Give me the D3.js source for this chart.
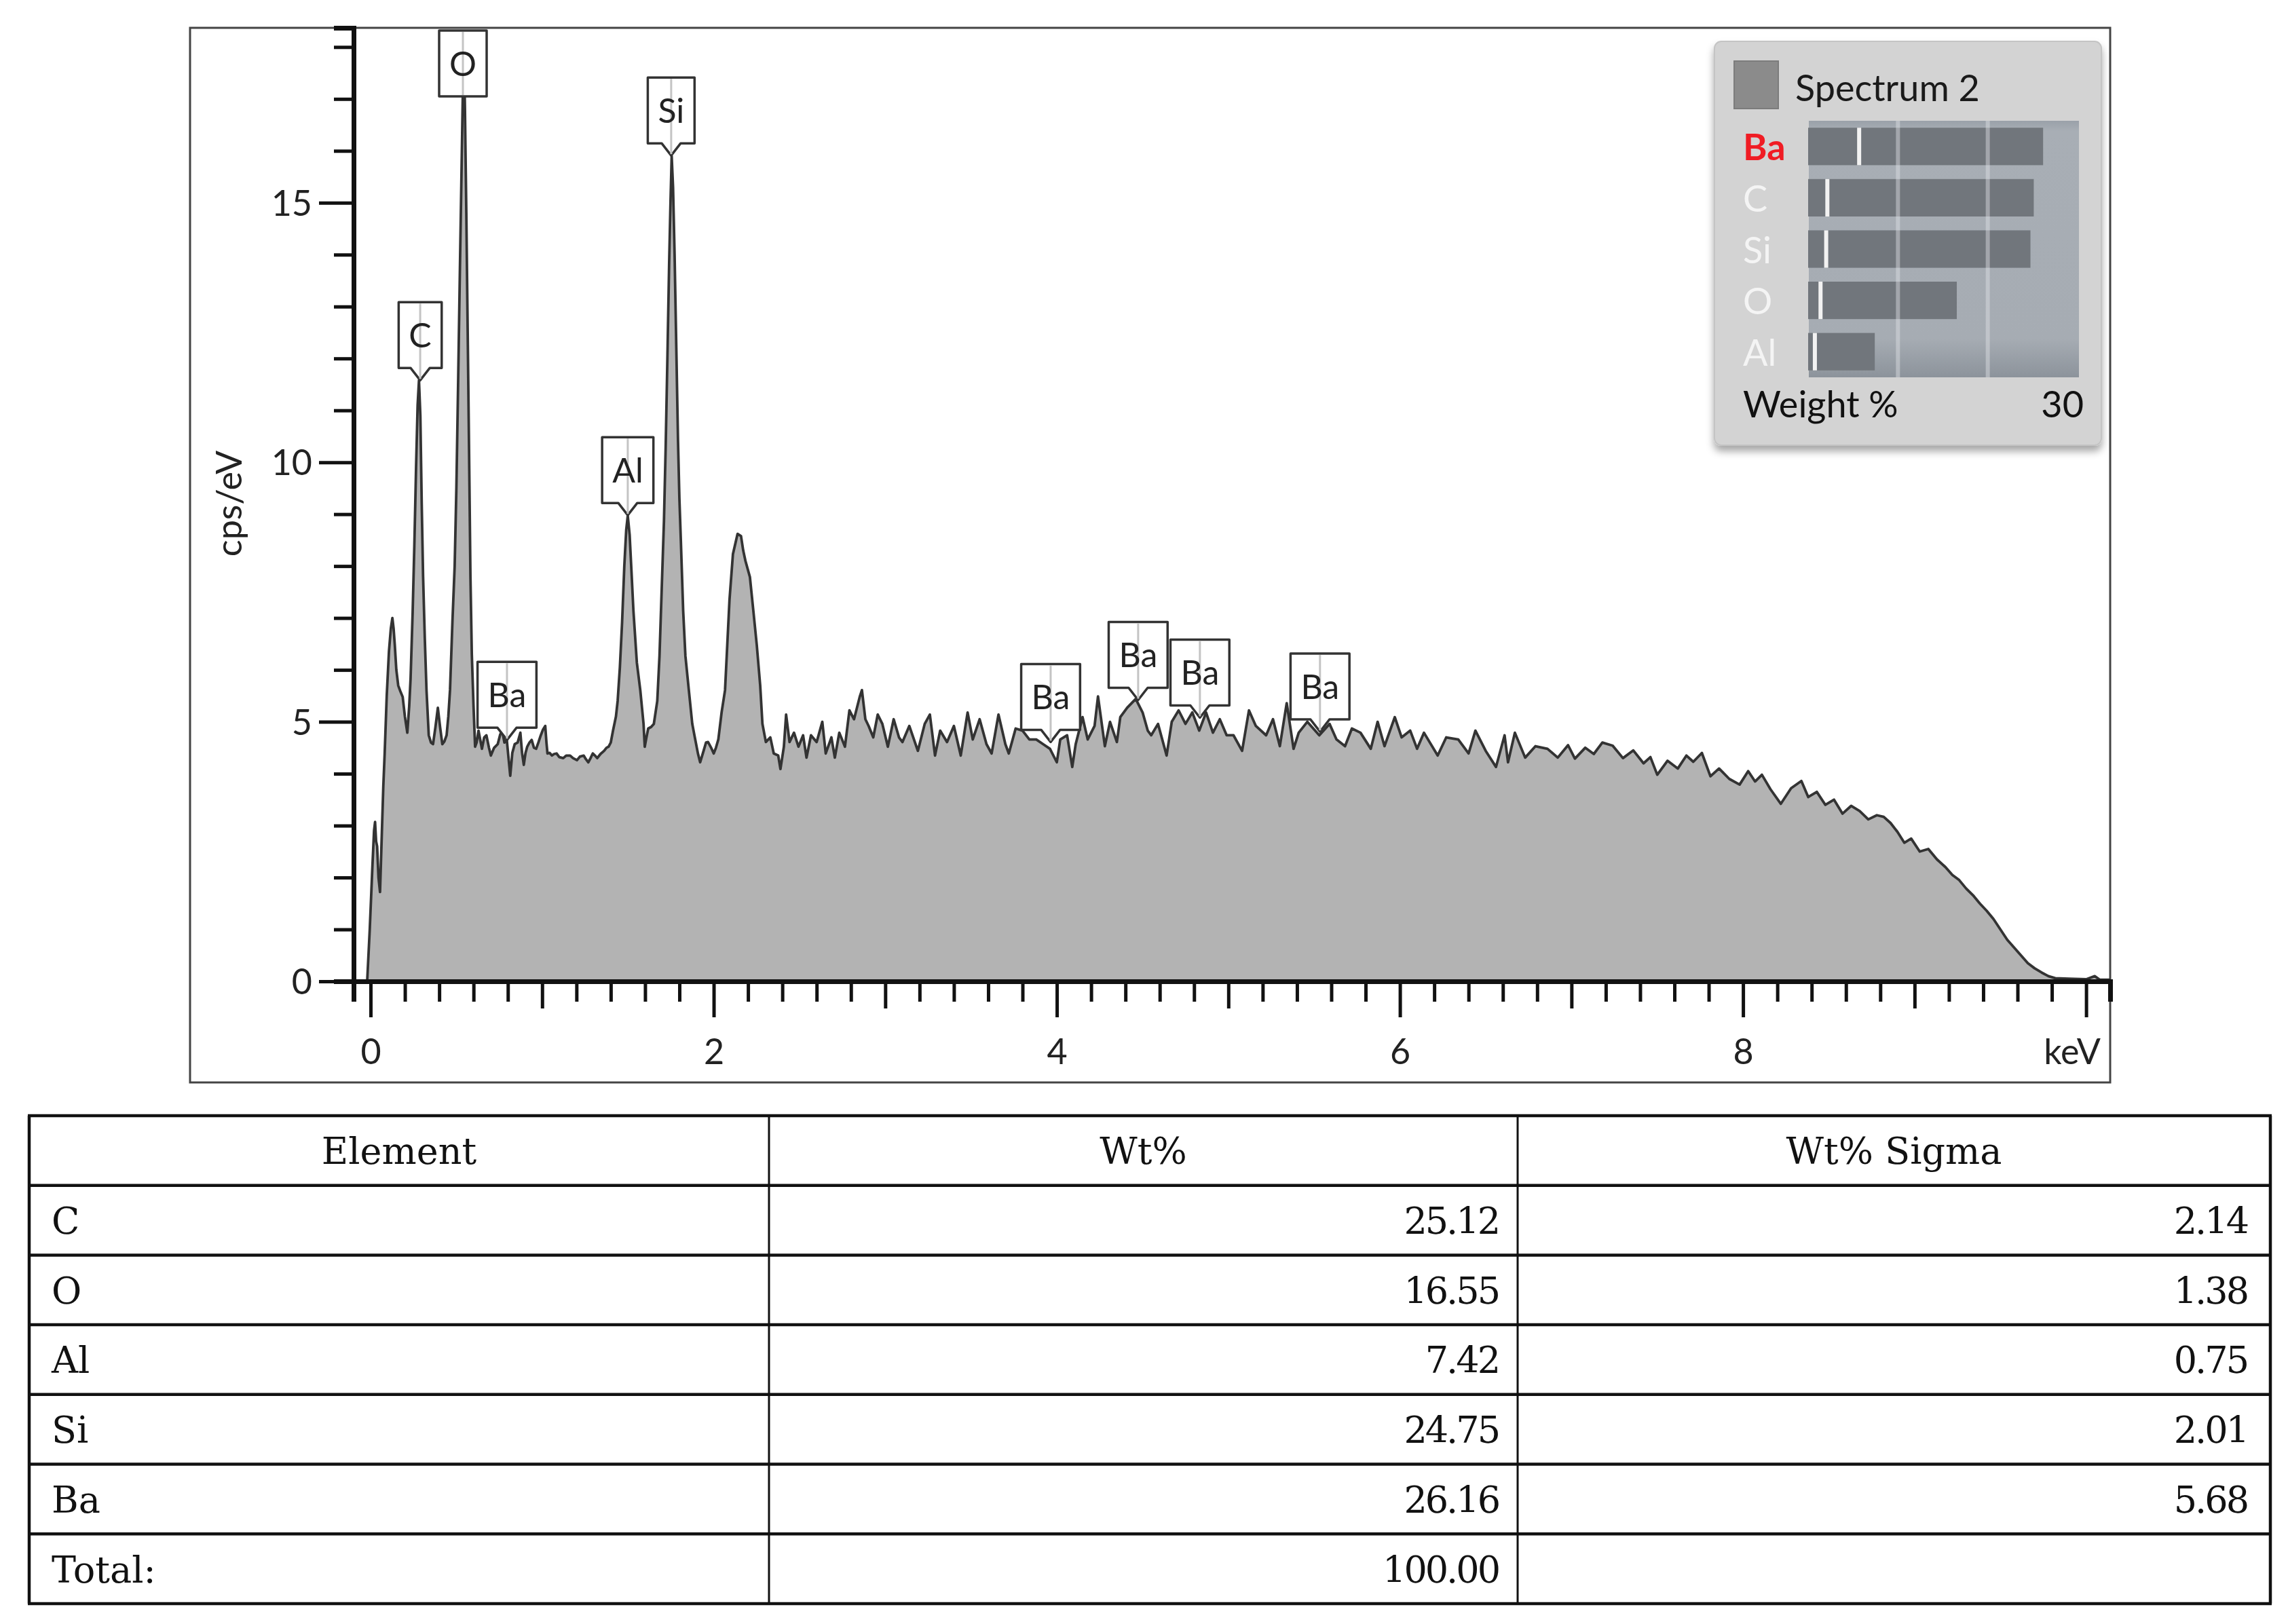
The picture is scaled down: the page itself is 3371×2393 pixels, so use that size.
<!DOCTYPE html>
<html><head><meta charset="utf-8">
<script src="https://cdn.jsdelivr.net/npm/d3@7"></script>
<style>html,body{margin:0;padding:0;background:#fff;} svg{display:block;}</style>
</head><body>
<svg id="c" width="3371" height="2393"></svg>
<script>
// ---- spectrum: [keV, cps/eV] ----
const spectrum = [
[-0.02,0],[-0.005,1.0],[0.011,2.25],[0.02,2.9],[0.026,3.07],[0.032,2.7],[0.038,2.6],[0.046,2.0],[0.055,1.72],[0.065,2.8],
[0.074,3.75],[0.082,4.39],[0.094,5.5],[0.107,6.36],[0.118,6.8],[0.127,7.0],[0.134,6.8],[0.141,6.48],[0.15,6.0],[0.161,5.7],
[0.172,5.6],[0.187,5.48],[0.2,5.1],[0.214,4.79],[0.225,5.3],[0.233,5.83],[0.245,7.1],[0.255,8.4],[0.265,9.9],[0.274,11.1],
[0.282,11.58],[0.29,10.9],[0.298,9.2],[0.306,7.8],[0.316,6.6],[0.326,5.6],[0.339,4.74],[0.352,4.6],[0.364,4.57],[0.378,4.9],
[0.392,5.27],[0.405,4.9],[0.418,4.57],[0.43,4.62],[0.443,4.74],[0.453,5.1],[0.463,5.62],[0.477,6.93],[0.49,8.0],[0.5,9.5],
[0.51,11.5],[0.52,13.6],[0.53,15.6],[0.538,17.2],[0.544,17.9],[0.55,16.8],[0.558,14.8],[0.566,12.5],[0.574,10.2],[0.582,7.8],
[0.59,6.3],[0.6,5.3],[0.609,4.52],[0.618,4.6],[0.629,4.83],[0.649,4.48],[0.662,4.7],[0.675,4.74],[0.69,4.5],[0.701,4.35],
[0.72,4.5],[0.741,4.57],[0.755,4.75],[0.767,4.83],[0.78,4.6],[0.794,4.65],[0.804,4.3],[0.814,3.96],[0.826,4.4],[0.84,4.57],
[0.857,4.6],[0.873,4.79],[0.883,4.4],[0.893,4.17],[0.903,4.4],[0.913,4.52],[0.926,4.6],[0.939,4.65],[0.952,4.5],[0.965,4.48],
[0.978,4.6],[0.992,4.74],[1.005,4.85],[1.018,4.92],[1.025,4.6],[1.031,4.39],[1.044,4.4],[1.057,4.35],[1.07,4.38],[1.084,4.39],
[1.1,4.32],[1.123,4.3],[1.14,4.35],[1.163,4.35],[1.18,4.3],[1.203,4.26],[1.22,4.33],[1.242,4.35],[1.255,4.28],[1.269,4.22],
[1.282,4.3],[1.295,4.39],[1.308,4.35],[1.321,4.3],[1.34,4.38],[1.361,4.44],[1.375,4.5],[1.387,4.52],[1.4,4.6],[1.413,4.83],
[1.43,5.1],[1.44,5.4],[1.453,6.05],[1.466,6.92],[1.479,8.01],[1.49,8.7],[1.499,8.97],[1.51,8.6],[1.519,8.01],[1.532,7.14],
[1.552,6.14],[1.572,5.61],[1.591,4.96],[1.598,4.52],[1.608,4.7],[1.618,4.87],[1.635,4.9],[1.651,4.96],[1.671,5.4],[1.684,6.27],
[1.697,7.57],[1.71,8.87],[1.72,10.3],[1.73,12.0],[1.74,13.8],[1.748,15.0],[1.755,15.9],[1.763,15.3],[1.772,14.0],[1.782,12.2],
[1.792,10.4],[1.8,9.3],[1.809,8.44],[1.822,7.14],[1.835,6.27],[1.855,5.61],[1.875,4.96],[1.89,4.7],[1.908,4.39],[1.921,4.22],
[1.941,4.44],[1.955,4.6],[1.967,4.61],[1.985,4.5],[2.0,4.39],[2.013,4.5],[2.027,4.66],[2.046,5.18],[2.066,5.61],[2.079,6.48],
[2.092,7.35],[2.112,8.23],[2.139,8.62],[2.159,8.58],[2.172,8.3],[2.185,8.1],[2.211,7.79],[2.231,7.14],[2.251,6.48],[2.271,5.7],
[2.284,4.96],[2.304,4.61],[2.33,4.7],[2.35,4.39],[2.376,4.35],[2.389,4.09],[2.409,4.52],[2.422,5.14],[2.442,4.61],[2.468,4.79],
[2.494,4.52],[2.521,4.74],[2.541,4.31],[2.567,4.74],[2.6,4.61],[2.633,5.0],[2.653,4.39],[2.686,4.7],[2.706,4.31],[2.732,4.79],
[2.765,4.52],[2.791,5.22],[2.818,5.05],[2.851,5.48],[2.864,5.61],[2.884,5.05],[2.903,4.92],[2.93,4.7],[2.956,5.14],[2.983,4.96],
[3.015,4.52],[3.049,5.05],[3.08,4.7],[3.10,4.61],[3.14,4.92],[3.19,4.44],[3.23,4.96],[3.26,5.14],[3.29,4.35],[3.32,4.83],
[3.36,4.61],[3.40,4.92],[3.44,4.35],[3.48,5.18],[3.51,4.66],[3.55,5.05],[3.59,4.57],[3.62,4.39],[3.66,5.14],[3.70,4.57],
[3.72,4.39],[3.76,4.87],[3.80,4.83],[3.84,4.66],[3.88,4.66],[3.92,4.57],[3.96,4.48],[4.00,4.22],[4.02,4.66],[4.06,4.74],
[4.09,4.13],[4.11,4.57],[4.15,5.09],[4.18,4.66],[4.22,4.92],[4.24,5.49],[4.28,4.53],[4.31,5.0],[4.35,4.61],[4.37,5.09],
[4.41,5.27],[4.46,5.44],[4.50,5.18],[4.53,4.83],[4.55,4.74],[4.59,4.96],[4.64,4.35],[4.67,5.0],[4.71,5.22],[4.75,4.96],
[4.79,5.18],[4.83,4.83],[4.87,5.18],[4.91,4.79],[4.95,5.05],[4.99,4.74],[5.03,4.74],[5.08,4.44],[5.12,5.22],[5.16,4.92],
[5.22,4.74],[5.26,5.05],[5.30,4.53],[5.34,5.36],[5.38,4.48],[5.41,4.79],[5.46,5.0],[5.53,4.74],[5.59,4.96],[5.63,4.66],
[5.68,4.53],[5.72,4.87],[5.77,4.79],[5.83,4.48],[5.87,5.0],[5.91,4.53],[5.97,5.09],[6.01,4.70],[6.06,4.83],[6.10,4.48],
[6.14,4.79],[6.22,4.35],[6.27,4.70],[6.34,4.66],[6.40,4.39],[6.44,4.83],[6.50,4.44],[6.56,4.13],[6.61,4.74],[6.63,4.22],
[6.67,4.79],[6.73,4.31],[6.79,4.53],[6.86,4.48],[6.92,4.31],[6.98,4.55],[7.02,4.29],[7.08,4.5],[7.13,4.38],[7.18,4.6],
[7.24,4.54],[7.3,4.3],[7.36,4.45],[7.42,4.2],[7.46,4.32],[7.5,3.98],[7.56,4.25],[7.62,4.1],[7.67,4.35],[7.71,4.23],
[7.76,4.4],[7.81,3.95],[7.86,4.1],[7.92,3.9],[7.98,3.79],[8.03,4.05],[8.07,3.85],[8.11,3.98],[8.16,3.7],[8.22,3.42],
[8.28,3.72],[8.34,3.86],[8.38,3.55],[8.43,3.65],[8.48,3.4],[8.53,3.5],[8.58,3.23],[8.63,3.38],[8.68,3.28],[8.73,3.12],
[8.78,3.2],[8.82,3.17],[8.86,3.05],[8.9,2.88],[8.94,2.67],[8.98,2.75],[9.03,2.5],[9.08,2.55],[9.13,2.35],[9.18,2.2],
[9.22,2.05],[9.26,1.95],[9.3,1.79],[9.34,1.66],[9.38,1.5],[9.42,1.36],[9.46,1.2],[9.5,1.0],[9.54,0.8],[9.58,0.65],
[9.62,0.5],[9.66,0.35],[9.7,0.25],[9.74,0.17],[9.78,0.1],[9.82,0.06],[9.9,0.05],[10.0,0.04],[10.05,0.1],[10.08,0.03],[10.14,0.03]
];

// ---- peak markers ----
const peakElements = ["C","O","Ba","Al","Si","Ba","Ba","Ba","Ba"];
const peakKeV      = [0.289,0.538,0.795,1.499,1.752,3.964,4.474,4.834,5.534];
const peakCps      = [11.58,17.9,4.65,8.98,15.91,4.61,5.42,5.08,4.81];

// ---- axes ----
const yTicks = d3.range(0, 19);
const xTicks = d3.range(0, 51).map(i => +(i * 0.2).toFixed(1));
const xLabelValues = [0, 2, 4, 6, 8];
const yLabelValues = [0, 5, 10, 15];

// ---- table ----
const tableHeader = ["Element", "Wt%", "Wt% Sigma"];
const tableElements = ["C", "O", "Al", "Si", "Ba"];
const wtPct   = [25.12, 16.55, 7.42, 24.75, 26.16];
const wtSigma = [2.14, 1.38, 0.75, 2.01, 5.68];
const totalLabel = "Total:";
const totalValue = "100.00";

// ---- legend ----
const legendTitle = "Spectrum 2";
const legendAxisMax = 30;
const legendGrid = [10, 20];
const highlightElement = "Ba";

const svg = d3.select("#c");
const SANS = "Lato, 'Noto Sans', sans-serif";
const SERIF = "'DejaVu Serif', 'Liberation Serif', serif";

const x = d3.scaleLinear().domain([-0.099, 10.14]).range([521, 3109]);
const y = d3.scaleLinear().domain([0, 18.37]).range([1446, 41]);

// frame
svg.append("rect").attr("x", 280).attr("y", 41).attr("width", 3109 - 280).attr("height", 1595 - 41)
  .attr("fill", "#fff").attr("stroke", "#444").attr("stroke-width", 3);

// clip
svg.append("clipPath").attr("id", "plotclip").append("rect")
  .attr("x", 521).attr("y", 41).attr("width", 3109 - 521).attr("height", 1446 - 41);

const plot = svg.append("g").attr("clip-path", "url(#plotclip)");
plot.append("path").datum(spectrum)
  .attr("d", d3.area().x(d => x(d[0])).y0(y(0)).y1(d => y(d[1])))
  .attr("fill", "#b3b3b3");
plot.append("path").datum(spectrum)
  .attr("d", d3.line().x(d => x(d[0])).y(d => y(d[1])))
  .attr("fill", "none").attr("stroke", "#333").attr("stroke-width", 3.8).attr("stroke-linejoin", "round");

// axes
const gx = svg.append("g").attr("transform", `translate(0,${y(0)})`)
  .call(d3.axisBottom(x).tickValues(xTicks).tickSizeOuter(0).tickSize(30)
    .tickFormat(d => xLabelValues.includes(d) ? d3.format("d")(d) : ""));
gx.selectAll(".tick line")
  .attr("y2", d => (Math.round(d * 10) % 20 === 0) ? 53 : (Math.round(d * 10) % 10 === 0 ? 40 : 30))
  .attr("stroke", "#111").attr("stroke-width", 5);
gx.select(".domain").attr("stroke", "#111").attr("stroke-width", 7);
gx.selectAll(".tick text").attr("y", 103).attr("dy", "0.36em")
  .attr("font-family", SANS).attr("font-size", 52).attr("fill", "#222");

const gy = svg.append("g").attr("transform", `translate(${x.range()[0]},0)`)
  .call(d3.axisLeft(y).tickValues(yTicks).tickSizeOuter(0).tickSize(29)
    .tickFormat(d => yLabelValues.includes(d) ? d : ""));
gy.selectAll(".tick line").attr("x2", d => d % 5 === 0 ? -51 : -29)
  .attr("stroke", "#111").attr("stroke-width", 5);
gy.select(".domain").attr("stroke", "#111").attr("stroke-width", 7);
gy.selectAll(".tick text").attr("x", -61).attr("dy", "0.36em")
  .attr("font-family", SANS).attr("font-size", 52).attr("fill", "#222");

svg.append("text").attr("transform", "translate(337,742) rotate(-90)")
  .attr("text-anchor", "middle").attr("dy", "0.36em")
  .attr("font-family", SANS).attr("font-size", 52).attr("fill", "#222").text("cps/eV");
svg.append("text").attr("x", 3053).attr("y", 1549).attr("dy", "0.36em")
  .attr("text-anchor", "middle").attr("font-family", SANS).attr("font-size", 52).attr("fill", "#222").text("keV");

// peak labels
const labels = svg.append("g");
peakElements.forEach((el, i) => {
  const cx = x(peakKeV[i]);
  const tipY = y(peakCps[i]);
  let top = tipY - 115, bottom = tipY - 18, notch = true;
  if (top < 45) { top = 45; bottom = top + 97; notch = false; }
  const g = labels.append("g");
  const t = g.append("text").attr("x", cx).attr("y", (top + bottom) / 2).attr("dy", "0.36em")
    .attr("text-anchor", "middle").attr("font-family", SANS).attr("font-size", 50).attr("fill", "#222").text(el);
  const w = t.node().getComputedTextLength() + 30;
  const L = cx - w / 2, R = cx + w / 2;
  let p = `M${L},${top}H${R}V${bottom}`;
  if (notch) p += `H${cx + 14}L${cx},${bottom + 18}L${cx - 14},${bottom}`;
  p += `H${L}Z`;
  g.insert("path", "text").attr("d", p).attr("fill", "#fff").attr("stroke", "#333").attr("stroke-width", 3.5).attr("stroke-linejoin", "round");
  g.insert("line", "text").attr("x1", cx).attr("x2", cx).attr("y1", top + 2).attr("y2", notch ? bottom + 16 : bottom - 2)
    .attr("stroke", "#c4c4c4").attr("stroke-width", 3);
});

// legend
const defs = svg.append("defs");
const sh = defs.append("filter").attr("id", "shadow").attr("x", "-10%").attr("y", "-10%").attr("width", "120%").attr("height", "125%");
sh.append("feDropShadow").attr("dx", 0).attr("dy", 8).attr("stdDeviation", 6).attr("flood-color", "#000").attr("flood-opacity", 0.35);
const grad = defs.append("linearGradient").attr("id", "panel").attr("x1", 0).attr("x2", 0).attr("y1", 0).attr("y2", 1);
[[0, "#9aa1a9"], [0.04, "#a8aeb5"], [0.85, "#a6acb3"], [1, "#8c939b"]].forEach(s =>
  grad.append("stop").attr("offset", s[0]).attr("stop-color", s[1]));

const lg = svg.append("g");
lg.append("rect").attr("x", 2526).attr("y", 61).attr("width", 570).attr("height", 595).attr("rx", 10)
  .attr("fill", "#d3d3d3").attr("stroke", "#c4c4c4").attr("stroke-width", 2).attr("filter", "url(#shadow)");
lg.append("rect").attr("x", 2555).attr("y", 90).attr("width", 65).attr("height", 70)
  .attr("fill", "#8b8b8b").attr("stroke", "#7c7c7c").attr("stroke-width", 2);
lg.append("text").attr("x", 2645).attr("y", 149).attr("font-family", SANS).attr("font-size", 54)
  .attr("fill", "#1a1a1a").text(legendTitle);

const order = d3.range(tableElements.length).sort((a, b) => wtPct[b] - wtPct[a]);
const lx = d3.scaleLinear().domain([0, legendAxisMax]).range([2664, 3061]);
const ly = d3.scaleBand().domain(order.map(i => tableElements[i])).range([178, 556]).paddingInner(0.27).paddingOuter(0.135);
lg.append("rect").attr("x", 2665).attr("y", 178).attr("width", 3063 - 2665).attr("height", 556 - 178).attr("fill", "url(#panel)");
lg.selectAll(".bar").data(order).join("rect")
  .attr("x", lx(0)).attr("y", i => ly(tableElements[i])).attr("width", i => lx(wtPct[i]) - lx(0))
  .attr("height", ly.bandwidth()).attr("fill", "#71767c");
lg.selectAll(".grid").data(legendGrid).join("line")
  .attr("x1", d => lx(d)).attr("x2", d => lx(d)).attr("y1", 178).attr("y2", 556)
  .attr("stroke", "#dfe3e7").attr("stroke-opacity", 0.45).attr("stroke-width", 6);
lg.selectAll(".sig").data(order).join("line")
  .attr("x1", i => lx(wtSigma[i])).attr("x2", i => lx(wtSigma[i]))
  .attr("y1", i => ly(tableElements[i])).attr("y2", i => ly(tableElements[i]) + ly.bandwidth())
  .attr("stroke", "#f2f2f2").attr("stroke-width", 6);
lg.selectAll(".lab").data(order).join("text")
  .attr("x", 2568).attr("y", i => ly(tableElements[i]) + ly.bandwidth() / 2).attr("dy", "0.38em")
  .attr("font-family", SANS).attr("font-size", 54)
  .attr("fill", i => tableElements[i] === highlightElement ? "#f01c24" : "#f4f4f4")
  .attr("font-weight", i => tableElements[i] === highlightElement ? 700 : 400)
  .text(i => tableElements[i]);
lg.append("text").attr("x", 2568).attr("y", 615).attr("font-family", SANS).attr("font-size", 54)
  .attr("fill", "#111").text("Weight %");
lg.append("text").attr("x", 3070).attr("y", 615).attr("text-anchor", "end").attr("font-family", SANS).attr("font-size", 54)
  .attr("fill", "#111").text(legendAxisMax);

// table
const colX = [43, 1133, 2236, 3345];
const rowTop = 1644, rowH = 102.7;
const nRows = tableElements.length + 2;
const tg = svg.append("g");
d3.range(nRows + 1).forEach(r => {
  tg.append("line").attr("x1", colX[0] - 2).attr("x2", colX[3] + 2)
    .attr("y1", rowTop + r * rowH).attr("y2", rowTop + r * rowH)
    .attr("stroke", "#111").attr("stroke-width", 4.5);
});
colX.forEach((cx, i) => {
  tg.append("line").attr("x1", cx).attr("x2", cx).attr("y1", rowTop).attr("y2", rowTop + nRows * rowH)
    .attr("stroke", "#111").attr("stroke-width", (i === 0 || i === 3) ? 4.5 : 3);
});
const base = r => rowTop + r * rowH + rowH / 2 + 20;
tableHeader.forEach((h, i) => {
  tg.append("text").attr("x", (colX[i] + colX[i + 1]) / 2).attr("y", base(0))
    .attr("text-anchor", "middle").attr("font-family", SERIF).attr("font-size", 54).attr("fill", "#111").text(h);
});
const rowsData = tableElements.map((e, i) => [e, wtPct[i].toFixed(2), wtSigma[i].toFixed(2)]);
rowsData.push([totalLabel, totalValue, ""]);
rowsData.forEach((row, r) => {
  tg.append("text").attr("x", 76).attr("y", base(r + 1)).attr("font-family", SERIF).attr("font-size", 54)
    .attr("fill", "#111").text(row[0]);
  tg.append("text").attr("x", 2208).attr("y", base(r + 1)).attr("text-anchor", "end").attr("letter-spacing", -3)
    .attr("font-family", SERIF).attr("font-size", 54).attr("fill", "#111").text(row[1]);
  tg.append("text").attr("x", 3311).attr("y", base(r + 1)).attr("text-anchor", "end").attr("letter-spacing", -3)
    .attr("font-family", SERIF).attr("font-size", 54).attr("fill", "#111").text(row[2]);
});
</script>
</body></html>
